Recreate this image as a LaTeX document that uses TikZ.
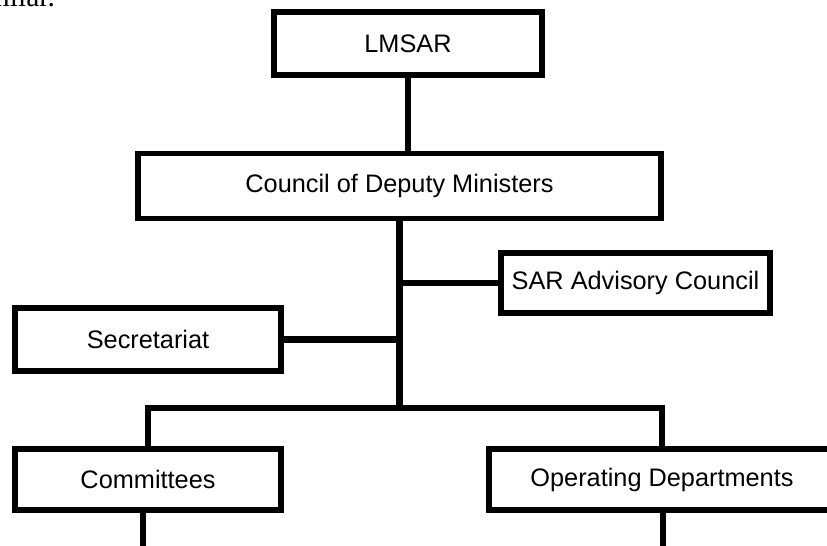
\documentclass[tikz,border=0pt]{standalone}
\usepackage{fontspec}
\setmainfont{Liberation Sans}
\newfontfamily\bodyserif{Liberation Serif}
\begin{document}
\begin{tikzpicture}[x=0.025cm, y=-0.025cm,
	orgbox/.style={draw, line width=4.2pt, inner sep=0pt, font=\fontsize{18}{21}\selectfont},
	link/.style={line width=4.4pt}]
	\clip (0,0) rectangle (827,545);
	\node[anchor=base east, font=\bodyserif\fontsize{21}{24}\selectfont] (prose) at (60,7) {similar.};

	\node[orgbox, minimum width=6.7cm, minimum height=1.575cm] (lmsar) at (408,43.5) {LMSAR};
	\node[orgbox, minimum width=13.075cm, minimum height=1.625cm] (council) at (399.5,186) {Council of Deputy Ministers};
	\node[orgbox, minimum width=6.725cm, minimum height=1.5cm] (sar) at (635.5,283) {SAR Advisory Council};
	\node[orgbox, minimum width=6.65cm, minimum height=1.575cm] (sec) at (148,339.5) {Secretariat};
	\node[orgbox, minimum width=6.65cm, minimum height=1.525cm] (com) at (148,479.5) {Committees};
	\node[orgbox, minimum width=8.65cm, minimum height=1.525cm] (ops) at (662,479.5) {Operating Departments};

	\coordinate (bus) at (399.5,408);
	\coordinate (comend) at (143,548);
	\coordinate (opsend) at (663,548);

	\draw[link] (lmsar.south) -- (lmsar.south |- council.north);
	\draw[link] (council.south) -- (bus);
	\draw[link] (council.south |- sar.west) -- (sar.west);
	\draw[link] (sec.east) -- (sec.east -| council.south);
	\draw[link] (com.north) |- (bus) -| (ops.north);
	\draw[link] (com.south -| comend) -- (comend);
	\draw[link] (ops.south -| opsend) -- (opsend);
\end{tikzpicture}
\end{document}
